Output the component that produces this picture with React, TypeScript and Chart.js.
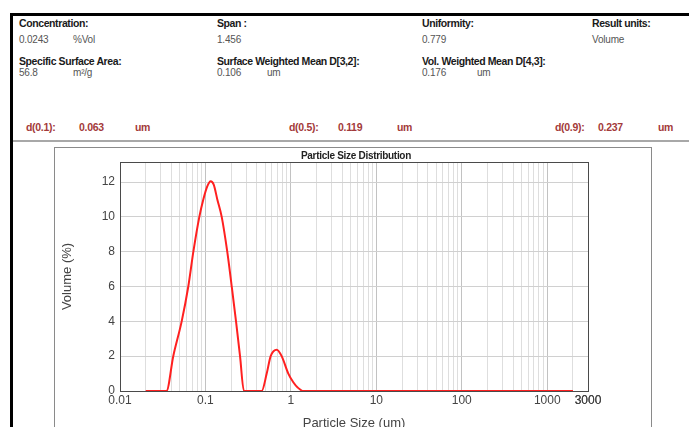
import React, { useEffect, useRef } from 'react';
import { Chart, registerables } from 'chart.js';
Chart.register(...registerables);

// ---- data ----
const particleSizes = [
  0.02, 0.025, 0.03, 0.035, 0.042, 0.0527, 0.063, 0.0722, 0.0848, 0.0944, 0.105, 0.115, 0.125,
  0.1377, 0.155, 0.18, 0.203, 0.228, 0.254, 0.282, 0.32, 0.36, 0.41, 0.455, 0.521, 0.58, 0.683,
  0.78, 0.933, 1.067, 1.2, 1.4, 2, 5, 10, 50, 100, 500, 1000, 2000,
];
const volumePct = [
  0, 0, 0, 0, 2, 4, 6, 8, 10, 11, 11.75, 12.05, 11.85,
  11, 10, 8, 6, 4, 2, 0, 0, 0, 0, 0, 1, 2, 2.37,
  2, 1, 0.5, 0.2, 0, 0, 0, 0, 0, 0, 0, 0, 0,
];
const xTickValues = [0.01, 0.1, 1, 10, 100, 1000, 3000];
const xTickLabels = ['0.01', '0.1', '1', '10', '100', '1000', '3000'];
const yTickValues = [0, 2, 4, 6, 8, 10, 12];
const yTickLabels = ['0', '2', '4', '6', '8', '10', '12'];
const xMin = 0.01;
const xMax = 3000;
const yMax = 13.15;
const gridDecades = [0.01, 0.1, 1, 10, 100, 1000];
const gridMultipliers = [1, 2, 3, 4, 5, 6, 7, 8, 9];

const chartTitle = 'Particle Size Distribution';
const xTitle = 'Particle Size (um)';
const yTitle = 'Volume (%)';

const headerLabels = [
  { t: 'Concentration:', x: 19, y: 23 },
  { t: 'Span :', x: 217, y: 23 },
  { t: 'Uniformity:', x: 422, y: 23 },
  { t: 'Result units:', x: 592, y: 23 },
  { t: 'Specific Surface Area:', x: 19, y: 61 },
  { t: 'Surface Weighted Mean D[3,2]:', x: 217, y: 61 },
  { t: 'Vol. Weighted Mean D[4,3]:', x: 422, y: 61 },
];
const headerValues = [
  { t: '0.0243', x: 19, y: 40 },
  { t: '%Vol', x: 73, y: 40 },
  { t: '1.456', x: 217, y: 40 },
  { t: '0.779', x: 422, y: 40 },
  { t: 'Volume', x: 592, y: 40 },
  { t: '56.8', x: 19, y: 73 },
  { t: 'm²/g', x: 73, y: 73 },
  { t: '0.106', x: 217, y: 73 },
  { t: 'um', x: 267, y: 73 },
  { t: '0.176', x: 422, y: 73 },
  { t: 'um', x: 477, y: 73 },
];
const percentiles = [
  { t: 'd(0.1):', x: 26, y: 127 },
  { t: '0.063', x: 79, y: 127 },
  { t: 'um', x: 135, y: 127 },
  { t: 'd(0.5):', x: 289, y: 127 },
  { t: '0.119', x: 338, y: 127 },
  { t: 'um', x: 397, y: 127 },
  { t: 'd(0.9):', x: 555, y: 127 },
  { t: '0.237', x: 598, y: 127 },
  { t: 'um', x: 658, y: 127 },
];

const FONT = "'Liberation Sans', Arial, sans-serif";

function isMajor(v: number) {
  return xTickValues.some((t) => Math.abs(t - v) / t < 1e-6);
}
function majorLabel(v: number) {
  const i = xTickValues.findIndex((t) => Math.abs(t - v) / t < 1e-6);
  return i >= 0 ? xTickLabels[i] : '';
}

const frameBorder = {
  id: 'frameBorder',
  afterDraw(chart: any) {
    const { ctx, chartArea } = chart;
    ctx.save();
    ctx.strokeStyle = '#4a4a4a';
    ctx.lineWidth = 1;
    ctx.strokeRect(chartArea.left + 0.5, chartArea.top + 0.5, chartArea.right - chartArea.left, chartArea.bottom - chartArea.top);
    ctx.restore();
  },
};

function Text({ t, x, y, kind }: { t: string; x: number; y: number; kind: string }) {
  const style: React.CSSProperties = {
    position: 'absolute',
    left: x,
    top: y - 6,
    lineHeight: '12px',
    whiteSpace: 'nowrap',
    fontFamily: FONT,
  };
  if (kind === 'label') {
    Object.assign(style, { fontSize: 10.5, fontWeight: 'bold', color: '#1a1a1a', letterSpacing: '-0.4px' });
  } else if (kind === 'value') {
    Object.assign(style, { fontSize: 10, color: '#555', letterSpacing: '-0.2px' });
  } else {
    Object.assign(style, { fontSize: 10.5, fontWeight: 'bold', color: '#a33a3a', letterSpacing: '-0.3px' });
  }
  return <div style={style}>{t}</div>;
}

export default function App() {
  const ref = useRef<HTMLCanvasElement | null>(null);

  useEffect(() => {
    if (!ref.current) return;
    const points = particleSizes.map((x, i) => ({ x, y: volumePct[i] }));
    const chart = new Chart(ref.current, {
      type: 'line',
      data: {
        datasets: [
          {
            data: points,
            borderColor: '#ff2020',
            borderWidth: 2,
            pointRadius: 0,
            fill: false,
            cubicInterpolationMode: 'monotone',
          },
        ],
      },
      options: {
        animation: false,
        responsive: false,
        devicePixelRatio: 1,
        layout: { padding: { left: 0, top: 15, right: 64, bottom: 0 } },
        plugins: { legend: { display: false }, tooltip: { enabled: false } },
        scales: {
          x: {
            type: 'logarithmic',
            min: xMin,
            max: xMax,
            afterBuildTicks: (scale: any) => {
              const vals: number[] = [];
              gridDecades.forEach((d) =>
                gridMultipliers.forEach((m) => {
                  const v = d * m;
                  if (v <= xMax * 1.0000001) vals.push(v);
                })
              );
              vals.push(xMax);
              scale.ticks = vals.map((v) => ({ value: v }));
            },
            afterFit: (scale: any) => {
              scale.height = 40;
            },
            ticks: {
              autoSkip: false,
              maxRotation: 0,
              padding: 2,
              color: '#444',
              font: { family: FONT, size: 12 },
              callback: (v: any) => majorLabel(Number(v)),
            },
            grid: {
              drawTicks: false,
              color: (ctx: any) => (ctx.tick && isMajor(ctx.tick.value) ? '#c2c2c2' : '#dedede'),
              lineWidth: 1,
            },
            border: { color: '#333', width: 1 },
            title: {
              display: true,
              text: xTitle,
              color: '#444',
              font: { family: FONT, size: 13 },
              padding: { top: 0, bottom: 0 },
            },
          },
          y: {
            type: 'linear',
            min: 0,
            max: yMax,
            afterBuildTicks: (scale: any) => {
              scale.ticks = yTickValues.map((v) => ({ value: v }));
            },
            afterFit: (scale: any) => {
              scale.width = 66;
            },
            ticks: {
              padding: 5,
              color: '#444',
              font: { family: FONT, size: 12 },
              callback: (v: any) => {
                const i = yTickValues.indexOf(Number(v));
                return i >= 0 ? yTickLabels[i] : '';
              },
            },
            grid: { drawTicks: false, color: '#d0d0d0', lineWidth: 1 },
            border: { color: '#333', width: 1 },
            title: {
              display: true,
              text: yTitle,
              color: '#444',
              font: { family: FONT, size: 13 },
              padding: { top: 6, bottom: 0 },
            },
          },
        },
      } as any,
      plugins: [frameBorder],
    });
    return () => chart.destroy();
  }, []);

  return (
    <div
      style={{
        position: 'fixed',
        left: 0,
        top: 0,
        width: 689,
        height: 427,
        overflow: 'hidden',
        background: '#fff',
      }}
    >
      {/* outer frame */}
      <div style={{ position: 'absolute', left: 10, top: 13, width: 679, height: 3, background: '#000' }} />
      <div style={{ position: 'absolute', left: 10, top: 13, width: 3, height: 414, background: '#000' }} />
      {/* separator */}
      <div style={{ position: 'absolute', left: 13, top: 140, width: 676, height: 2, background: '#a8a8a8' }} />
      {headerLabels.map((h, i) => (
        <Text key={'l' + i} {...h} kind="label" />
      ))}
      {headerValues.map((h, i) => (
        <Text key={'v' + i} {...h} kind="value" />
      ))}
      {percentiles.map((h, i) => (
        <Text key={'p' + i} {...h} kind="red" />
      ))}
      {/* inner chart box */}
      <div
        style={{
          position: 'absolute',
          left: 54,
          top: 147,
          width: 598,
          height: 300,
          border: '1.5px solid #8a8a8a',
          boxSizing: 'border-box',
        }}
      />
      <canvas
        ref={ref}
        width={598}
        height={284}
        style={{ position: 'absolute', left: 54, top: 147, width: 598, height: 284 }}
      />
      <div
        style={{
          position: 'absolute',
          left: 256,
          width: 200,
          top: 151,
          lineHeight: '10px',
          textAlign: 'center',
          fontFamily: FONT,
          fontSize: 10,
          fontWeight: 'bold',
          color: '#222',
          letterSpacing: '-0.3px',
        }}
      >
        {chartTitle}
      </div>
    </div>
  );
}
